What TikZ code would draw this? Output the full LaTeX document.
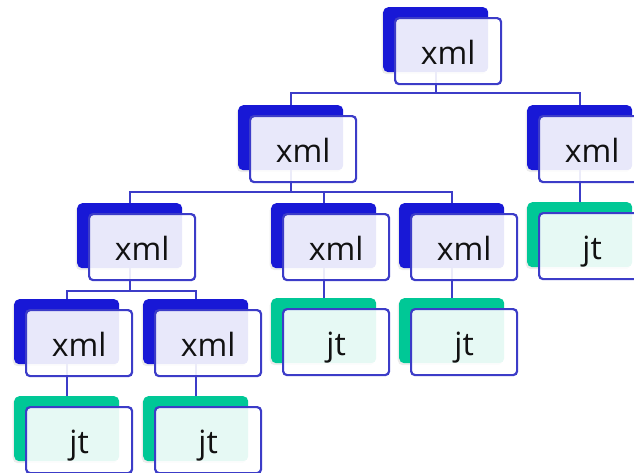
\documentclass[tikz,border=0pt]{standalone}
\usepackage{fontspec}
\setmainfont{Open Sans}
\usetikzlibrary{calc,shadows}
\definecolor{backblue}{HTML}{1818D6}
\definecolor{backgreen}{HTML}{00C896}
\definecolor{edgeblue}{HTML}{3C3CC8}
\definecolor{textdark}{HTML}{111111}
\pgfdeclarelayer{bg}
\pgfsetlayers{bg,main}
\begin{document}
\begin{tikzpicture}[x=1pt,y=-1pt,
  backbox/.style={rectangle, rounded corners=5pt, minimum width=105pt, minimum height=65pt,
    inner sep=0pt, anchor=north west,
    drop shadow={shadow xshift=-1.5pt, shadow yshift=-2pt, opacity=0.15}},
  bluebox/.style={backbox, fill=backblue},
  greenbox/.style={backbox, fill=backgreen},
  frontbox/.style={rectangle, rounded corners=4pt, minimum width=106pt, minimum height=66pt,
    inner sep=0pt, anchor=north west, draw=edgeblue, line width=2.2pt,
    fill=white, fill opacity=0.9, text opacity=1, text=textdark,
    text height=26pt, text depth=0pt, font=\fontsize{32}{32}\selectfont},
  conn/.style={draw=edgeblue, line width=2.2pt}]
\useasboundingbox (0,0) rectangle (634,472);
\clip (0,0) rectangle (634,472);
% back boxes and front boxes
\node[bluebox] (r) at (383,7) {};
\node[frontbox] (rf) at ($(r.north west)+(11,10)$) {xml};
\node[bluebox] (a) at (238,105) {};
\node[frontbox] (af) at ($(a.north west)+(11,10)$) {xml};
\node[bluebox] (b) at (527,105) {};
\node[frontbox] (bf) at ($(b.north west)+(11,10)$) {xml};
\node[greenbox] (bj) at (527,202) {};
\node[frontbox] (bjf) at ($(bj.north west)+(11,10)$) {jt};
\node[bluebox] (c) at (77,203) {};
\node[frontbox] (cf) at ($(c.north west)+(11,10)$) {xml};
\node[bluebox] (d) at (271,203) {};
\node[frontbox] (df) at ($(d.north west)+(11,10)$) {xml};
\node[bluebox] (e) at (399,203) {};
\node[frontbox] (ef) at ($(e.north west)+(11,10)$) {xml};
\node[greenbox] (dj) at (271,298) {};
\node[frontbox] (djf) at ($(dj.north west)+(11,10)$) {jt};
\node[greenbox] (ej) at (399,298) {};
\node[frontbox] (ejf) at ($(ej.north west)+(11,10)$) {jt};
\node[bluebox] (f) at (14,299) {};
\node[frontbox] (ff) at ($(f.north west)+(11,10)$) {xml};
\node[bluebox] (g) at (143,299) {};
\node[frontbox] (gf) at ($(g.north west)+(11,10)$) {xml};
\node[greenbox] (fj) at (14,396) {};
\node[frontbox] (fjf) at ($(fj.north west)+(11,10)$) {jt};
\node[greenbox] (gj) at (143,396) {};
\node[frontbox] (gjf) at ($(gj.north west)+(11,10)$) {jt};
% connectors underneath
\begin{pgfonlayer}{bg}
\draw[conn] (r.center) |- ($(a.north)+(0,-12)$) -- (a.north);
\draw[conn] (r.center) |- ($(b.north)+(0,-12)$) -- (b.north);
\draw[conn] (a.center) |- ($(c.north)+(0,-11)$) -- (c.north);
\draw[conn] (a.center) |- ($(d.north)+(0,-11)$) -- (d.north);
\draw[conn] (a.center) |- ($(e.north)+(0,-11)$) -- (e.north);
\draw[conn] (c.center) |- ($(f.north)+(0,-8)$) -- (f.north);
\draw[conn] (c.center) |- ($(g.north)+(0,-8)$) -- (g.north);
\draw[conn] (b.center) -- (bj.north);
\draw[conn] (d.center) -- (dj.north);
\draw[conn] (e.center) -- (ej.north);
\draw[conn] (f.center) -- (fj.north);
\draw[conn] (g.center) -- (gj.north);
\end{pgfonlayer}
\end{tikzpicture}
\end{document}
